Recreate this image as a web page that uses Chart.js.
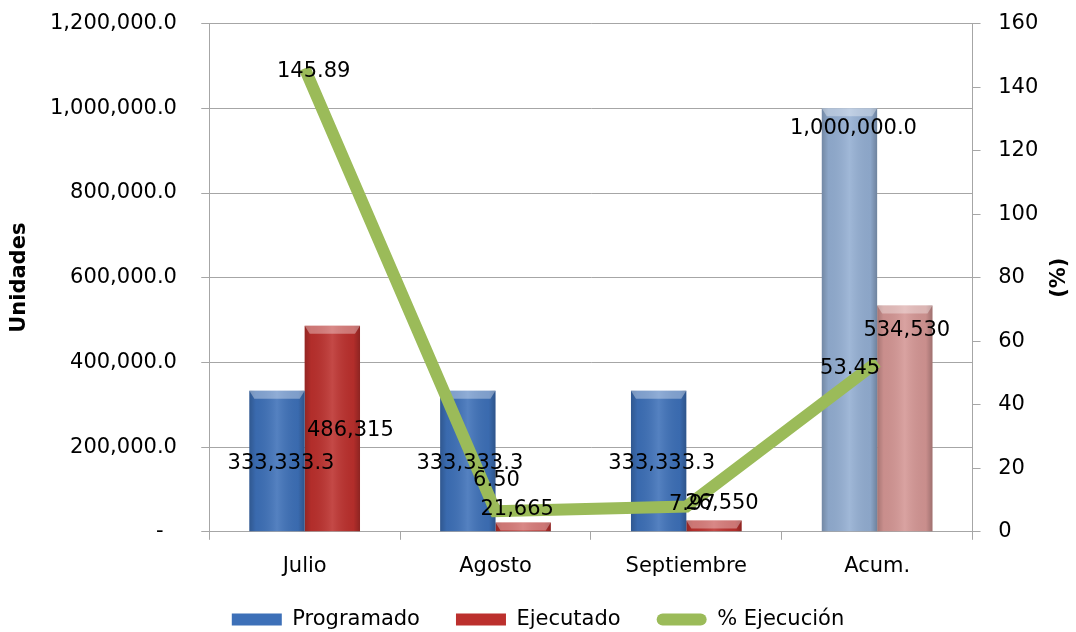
<!DOCTYPE html>
<html>
<head>
<meta charset="utf-8">
<script src="https://cdn.jsdelivr.net/npm/chart.js@4.4.1/dist/chart.umd.min.js"></script>
<style>
  html, body { margin: 0; padding: 0; background: #fff; }
  #wrap { width: 1076px; height: 632px; position: relative; }
</style>
</head>
<body>
<div id="wrap"><canvas id="chart"></canvas></div>
<script>
// data
const categories = ['Julio', 'Agosto', 'Septiembre', 'Acum.'];
const programado = [333333.3, 333333.3, 333333.3, 1000000.0];
const ejecutado = [486315, 21665, 26550, 534530];
const pctEjecucion = [145.89, 6.50, 7.97, 53.45];
const seriesNames = ['Programado', 'Ejecutado', '% Ejecución'];

// label nudges (Excel placed them by hand)
const labelShift = [
  [[4, 73], [2, 73], [3, 73], [4, 20]],
  [[18, 105], [-6, -13], [8, -17], [2, 25]],
  [[9, 3], [1, -31], [6, -2], [-27, 7]]
];

const FONT = '"DejaVu Sans", sans-serif';
const FS = 21;
const gridGrey = '#A6A6A6';

const blue = '#3D70B8', red = '#BC302D';
const blueFaded = '#93AED2', redFaded = '#D49694';

const fmtUnits = v => v.toLocaleString('en-US', { minimumFractionDigits: 1, maximumFractionDigits: 1 });
const fmtInt = v => v.toLocaleString('en-US', { maximumFractionDigits: 0 });

// bevel look on the bars
const bevelPlugin = {
  id: 'bevel',
  afterDatasetDraw(chart, args) {
    if (args.meta.type !== 'bar') return;
    const ctx = chart.ctx;
    args.meta.data.forEach(el => {
      const l = el.x - el.width / 2, r = el.x + el.width / 2;
      const t = Math.min(el.y, el.base), b = Math.max(el.y, el.base);
      ctx.save();
      const g = ctx.createLinearGradient(l, 0, r, 0);
      g.addColorStop(0, 'rgba(0,0,0,0.22)');
      g.addColorStop(0.12, 'rgba(0,0,0,0.05)');
      g.addColorStop(0.5, 'rgba(255,255,255,0.12)');
      g.addColorStop(0.88, 'rgba(0,0,0,0.05)');
      g.addColorStop(1, 'rgba(0,0,0,0.25)');
      ctx.fillStyle = g;
      ctx.fillRect(l, t, r - l, b - t);
      const h = Math.min(8, b - t);
      ctx.fillStyle = 'rgba(255,255,255,0.35)';
      ctx.beginPath();
      ctx.moveTo(l, t); ctx.lineTo(r, t); ctx.lineTo(r - 5, t + h); ctx.lineTo(l + 5, t + h);
      ctx.closePath();
      ctx.fill();
      ctx.restore();
    });
  }
};

const labelPlugin = {
  id: 'labels',
  afterDatasetsDraw(chart) {
    const ctx = chart.ctx;
    ctx.save();
    ctx.font = FS + 'px ' + FONT;
    ctx.fillStyle = '#000';
    ctx.textAlign = 'center';
    ctx.textBaseline = 'middle';
    chart.data.datasets.forEach((ds, di) => {
      const meta = chart.getDatasetMeta(di);
      meta.data.forEach((el, i) => {
        const v = ds.data[i];
        let txt;
        if (di === 0) txt = fmtUnits(v);
        else if (di === 1) txt = fmtInt(v);
        else txt = v.toFixed(2);
        const s = labelShift[di][i];
        ctx.fillText(txt, el.x + s[0], el.y + s[1]);
      });
    });
    // right axis title, reading bottom to top
    const ca = chart.chartArea;
    ctx.font = 'bold ' + FS + 'px ' + FONT;
    ctx.translate(1060, (ca.top + ca.bottom) / 2);
    ctx.rotate(-Math.PI / 2);
    ctx.fillText('(%)', 0, 0);
    ctx.restore();
  }
};

new Chart(document.getElementById('chart'), {
  type: 'bar',
  data: {
    labels: categories,
    datasets: [
      {
        label: seriesNames[0],
        data: programado,
        yAxisID: 'y',
        backgroundColor: programado.map((v, i) => i === 3 ? blueFaded : blue),
        borderWidth: 0,
        categoryPercentage: 0.58,
        barPercentage: 1.0
      },
      {
        label: seriesNames[1],
        data: ejecutado,
        yAxisID: 'y',
        backgroundColor: ejecutado.map((v, i) => i === 3 ? redFaded : red),
        borderWidth: 0,
        categoryPercentage: 0.58,
        barPercentage: 1.0
      },
      {
        type: 'line',
        label: seriesNames[2],
        data: pctEjecucion,
        yAxisID: 'y1',
        borderColor: '#9BBB59',
        backgroundColor: '#9BBB59',
        borderWidth: 12,
        pointRadius: 0,
        tension: 0,
        order: -1
      }
    ]
  },
  options: {
    responsive: true,
    maintainAspectRatio: false,
    animation: false,
    layout: { padding: { left: 0, right: 0, top: 0, bottom: -8 } },
    scales: {
      x: {
        grid: { offset: true, drawOnChartArea: false, color: gridGrey, tickLength: 8 },
        border: { color: gridGrey },
        ticks: { color: '#000', font: { family: FONT, size: FS }, padding: 14 }
      },
      y: {
        position: 'left',
        min: 0,
        max: 1200000,
        ticks: {
          stepSize: 200000,
          color: '#000',
          font: { family: FONT, size: FS },
          padding: 11,
          callback: v => v === 0 ? '-    ' : fmtUnits(v) + '  '
        },
        grid: { color: gridGrey, tickLength: 8 },
        border: { color: gridGrey },
        title: {
          display: true, text: 'Unidades', color: '#000',
          font: { family: FONT, size: FS, weight: 'bold', lineHeight: 1 },
          padding: { top: 9, bottom: 9 }
        }
      },
      y1: {
        position: 'right',
        min: 0,
        max: 160,
        ticks: {
          stepSize: 20, color: '#000', font: { family: FONT, size: FS }, padding: 11,
          callback: v => ' ' + v + '    '
        },
        grid: { drawOnChartArea: false, color: gridGrey, tickLength: 8 },
        border: { color: gridGrey }
      }
    },
    plugins: {
      legend: {
        position: 'bottom',
        labels: {
          color: '#000',
          font: { family: FONT, size: FS },
          boxWidth: 50,
          boxHeight: 12,
          padding: 16,
          useBorderRadius: true,
          generateLabels(chart) {
            const items = Chart.defaults.plugins.legend.labels.generateLabels(chart);
            items.forEach(it => {
              it.lineWidth = 0;
              it.borderRadius = it.datasetIndex === 2 ? 6 : 0;
              if (it.datasetIndex !== 2) it.text = it.text + '   ';
            });
            return items.sort((a, b) => a.datasetIndex - b.datasetIndex);
          }
        }
      },
      tooltip: { enabled: false }
    }
  },
  plugins: [bevelPlugin, labelPlugin]
});
</script>
</body>
</html>
